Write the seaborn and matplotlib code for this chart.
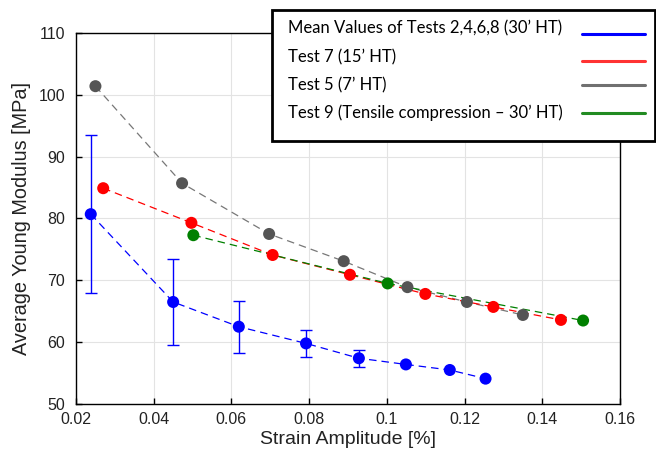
import pandas as pd
import matplotlib.pyplot as plt
import seaborn as sns
from matplotlib.lines import Line2D
from matplotlib.patches import Rectangle

# Mean values of tests 2,4,6,8 (30' HT)
blue_x = [0.0238, 0.0450, 0.0619, 0.0792, 0.0928, 0.1049, 0.1162, 0.1254]
blue_y = [80.7, 66.5, 62.5, 59.8, 57.4, 56.4, 55.5, 54.1]
blue_err = [12.8, 6.9, 4.2, 2.2, 1.4, 0.0, 0.0, 0.0]

# Test 7 (15' HT)
red_x = [0.0270, 0.0497, 0.0706, 0.0905, 0.1099, 0.1274, 0.1448]
red_y = [84.9, 79.3, 74.1, 70.9, 67.8, 65.7, 63.6]

# Test 5 (7' HT)
grey_x = [0.0250, 0.0473, 0.0697, 0.0889, 0.1053, 0.1206, 0.1350]
grey_y = [101.4, 85.7, 77.5, 73.1, 68.9, 66.5, 64.4]

# Test 9 (Tensile compression - 30' HT)
green_x = [0.0502, 0.1002, 0.1505]
green_y = [77.3, 69.5, 63.5]

labels = ['Mean Values of Tests 2,4,6,8 (30\u2019 HT)',
          'Test 7 (15\u2019 HT)',
          'Test 5 (7\u2019 HT)',
          'Test 9 (Tensile compression \u2013 30\u2019 HT)']
legend_colors = ['#0000ff', '#ff3333', '#707070', '#228b22']

sns.set_style('whitegrid')
plt.rcParams['font.family'] = ['Liberation Sans', 'DejaVu Sans']

W, H = 656, 459
fig = plt.figure(figsize=(W / 100, H / 100), dpi=100)
ax = fig.add_axes([76 / W, 1 - 404 / H, 544 / W, 371 / H])

series = [
    (grey_x, grey_y, '#555555', '#777777'),
    (red_x, red_y, '#ff0000', '#ff0000'),
    (green_x, green_y, '#008000', '#008000'),
]
for xs, ys, mc, lc in series:
    df = pd.DataFrame({'x': xs, 'y': ys})
    sns.lineplot(data=df, x='x', y='y', ax=ax, sort=False, color=lc,
                 linestyle=(0, (6, 4)), linewidth=0.9, zorder=2)
    sns.scatterplot(data=df, x='x', y='y', ax=ax, color=mc, s=75,
                    edgecolor='none', zorder=3)

df_b = pd.DataFrame({'x': blue_x, 'y': blue_y, 'e': blue_err})
sns.lineplot(data=df_b, x='x', y='y', ax=ax, sort=False, color='#0000ff',
             linestyle=(0, (6, 4)), linewidth=0.9, zorder=2)
ax.errorbar(df_b['x'][:5], df_b['y'][:5], yerr=df_b['e'][:5], fmt='none',
            ecolor='#0000ff', elinewidth=1, capsize=4, capthick=1, zorder=2)
sns.scatterplot(data=df_b, x='x', y='y', ax=ax, color='#0000ff', s=75,
                edgecolor='none', zorder=3)

ax.set_xlim(0.02, 0.16)
ax.set_ylim(50, 110)
ax.set_xticks([0.02, 0.04, 0.06, 0.08, 0.1, 0.12, 0.14, 0.16])
ax.set_xticklabels(['0.02', '0.04', '0.06', '0.08', '0.1', '0.12', '0.14', '0.16'])
ax.set_yticks(range(50, 111, 10))
ax.tick_params(direction='in', length=4, width=1, colors='black',
               labelcolor='#222222', labelsize=11.5,
               bottom=True, left=True, top=False, right=False)
ax.tick_params(axis='y', pad=8)
ax.tick_params(axis='x', pad=6)
ax.grid(True, color='#e3e3e3', linewidth=0.8)
for s in ax.spines.values():
    s.set_color('black')
    s.set_linewidth(1)
ax.set_xlabel('Strain Amplitude [%]', fontsize=14, color='#222222', labelpad=3)
ax.set_ylabel('Average Young Modulus [MPa]', fontsize=14.3, color='#222222', labelpad=5)

# legend box drawn in figure pixel coordinates (text left, line on the right)
def fx(px):
    return px / W

def fy(py):
    return 1 - py / H

fig.add_artist(Rectangle((fx(272), fy(141)), fx(655) - fx(272), fy(10) - fy(141),
                         transform=fig.transFigure, facecolor='white',
                         edgecolor='black', linewidth=2, zorder=10))
text_y = [28.5, 57, 85.5, 113]
line_y = [34, 61, 85, 113]
for lab, c, ty, ly in zip(labels, legend_colors, text_y, line_y):
    fig.text(fx(288), fy(ty), lab, ha='left', va='center', fontsize=12,
             family=['Lato', 'DejaVu Sans'], color='black', zorder=11)
    fig.add_artist(Line2D([fx(582), fx(645)], [fy(ly), fy(ly)],
                          transform=fig.transFigure, color=c,
                          linewidth=2.2, zorder=11))

plt.savefig('out.png', dpi=100)
